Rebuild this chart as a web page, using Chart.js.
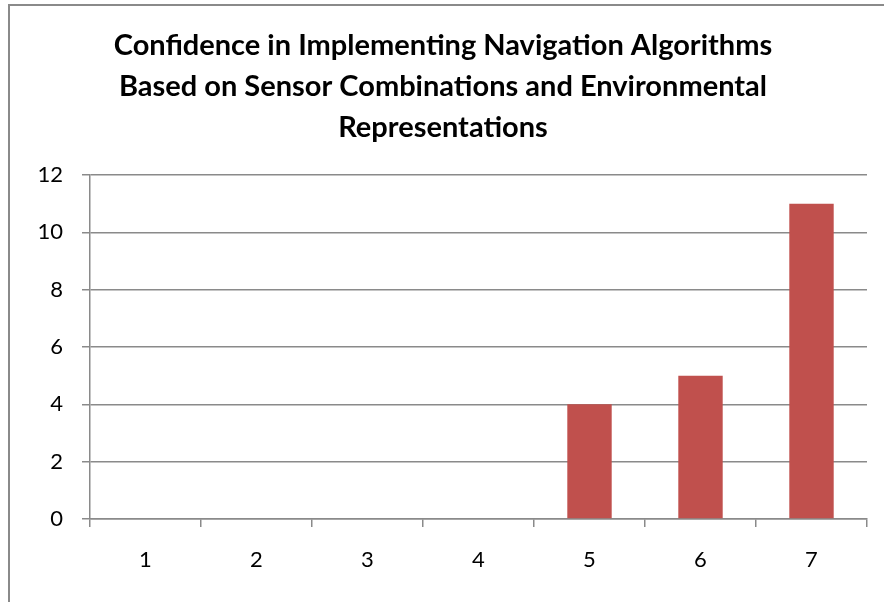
<!DOCTYPE html>
<html>
<head>
<meta charset="utf-8">
<script src="https://cdn.jsdelivr.net/npm/chart.js@4/dist/chart.umd.min.js"></script>
<style>
  html, body { margin: 0; padding: 0; background: #ffffff; overflow: hidden; }
  #wrap { position: relative; width: 884px; height: 602px; overflow: hidden; }
  #frame { position: absolute; left: 8px; top: 4px; width: 1000px; height: 800px;
           border: 2px solid #8a8a8a; box-sizing: border-box; pointer-events: none; }
  canvas { position: absolute; left: 0; top: 0; }
</style>
</head>
<body>
<div id="wrap">
  <canvas id="chart" width="884" height="602"></canvas>
  <div id="frame"></div>
</div>
<script>
// Rating scale (1-7) and the number of responses for each rating
const categories = ['1', '2', '3', '4', '5', '6', '7'];
const responses = [0, 0, 0, 0, 4, 5, 11];
const yTicks = [0, 2, 4, 6, 8, 10, 12];
const titleLines = [
  'Confidence in Implementing Navigation Algorithms',
  'Based on Sensor Combinations and Environmental',
  'Representations'
];

const axisGrey = '#8a8a8a';
const fontFamily = 'Lato, "Open Sans", sans-serif';

new Chart(document.getElementById('chart'), {
  type: 'bar',
  data: {
    labels: categories,
    datasets: [{
      data: responses,
      backgroundColor: '#C0504D',
      borderWidth: 0,
      barPercentage: 0.4,
      categoryPercentage: 1.0
    }]
  },
  options: {
    responsive: false,
    animation: false,
    layout: { padding: { top: 0, right: 17, bottom: 0, left: 19 } },
    plugins: {
      legend: { display: false },
      tooltip: { enabled: false },
      title: {
        display: true,
        text: titleLines,
        color: '#000000',
        font: { family: fontFamily, size: 29, weight: 'bold', lineHeight: 41 / 29 },
        padding: { top: 25, bottom: 27 }
      }
    },
    scales: {
      x: {
        grid: {
          offset: true,
          drawOnChartArea: false,
          drawTicks: true,
          tickLength: 8,
          color: axisGrey,
          lineWidth: 1.5
        },
        border: { display: true, color: axisGrey, width: 1.5 },
        ticks: { color: '#000000', font: { family: fontFamily, size: 22 }, padding: 20, maxRotation: 0 },
        afterFit: (s) => { s.height = 83; }
      },
      y: {
        min: 0,
        max: 12,
        afterBuildTicks: (s) => { s.ticks = yTicks.map(v => ({ value: v })); },
        grid: {
          drawTicks: true,
          tickLength: 8,
          color: axisGrey,
          lineWidth: 1.5
        },
        border: { display: true, color: axisGrey, width: 1.5 },
        ticks: { color: '#000000', font: { family: fontFamily, size: 22 }, padding: 19 },
        afterFit: (s) => { s.width = 71; }
      }
    }
  }
});
</script>
</body>
</html>
